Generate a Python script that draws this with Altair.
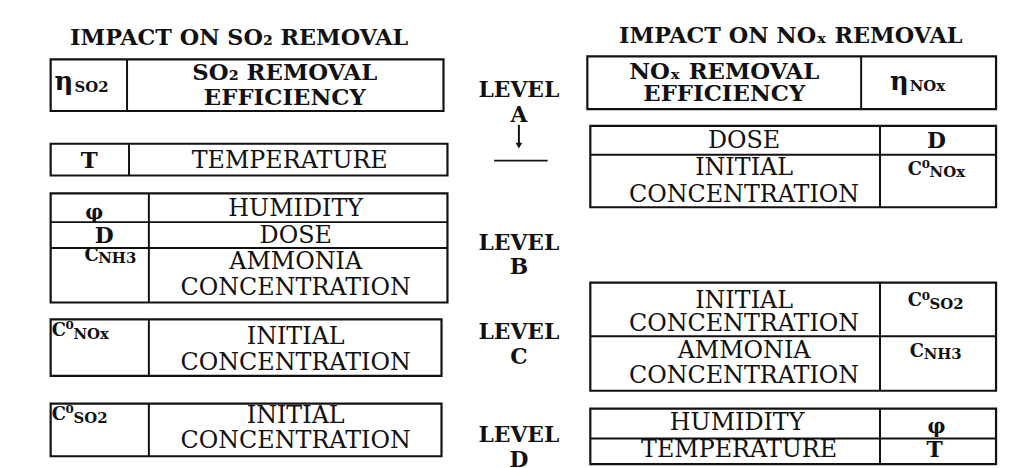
import altair as alt
import pandas as pd

FONT = "DejaVu Serif"

# ---------------- content ----------------
titles = ["IMPACT ON SO₂ REMOVAL", "IMPACT ON NOₓ REMOVAL"]
title_pos = [(241, 36), (797, 34)]

levels = ["LEVEL", "A", "LEVEL", "B", "LEVEL", "C", "LEVEL", "D"]
level_pos = [(523, 89), (523, 114), (523, 243), (523, 267),
             (523, 333), (523, 358), (523, 437), (523, 462)]

bold_labels = ["SO₂ REMOVAL", "EFFICIENCY", "NOₓ REMOVAL", "EFFICIENCY"]
bold_pos = [(287, 72), (287, 97), (730, 71), (730, 93)]

plain_labels = ["TEMPERATURE", "HUMIDITY", "DOSE", "AMMONIA", "CONCENTRATION",
                "INITIAL", "CONCENTRATION", "INITIAL", "CONCENTRATION",
                "DOSE", "INITIAL", "CONCENTRATION", "INITIAL", "CONCENTRATION",
                "AMMONIA", "CONCENTRATION", "HUMIDITY", "TEMPERATURE"]
plain_pos = [(292, 160), (298, 209), (298, 236), (298, 262), (298, 288),
             (298, 338), (298, 364), (298, 417), (298, 443),
             (750, 140), (750, 167), (750, 195), (750, 302), (750, 325),
             (750, 352), (750, 377), (743, 425), (745, 452)]

symbols_big = ["T", "φ", "D", "D", "φ", "T"]
symbols_big_pos = [(90, 160), (95, 213), (105, 236), (944, 140), (944, 429), (942, 452)]
symbols_big_size = [23, 20, 22, 22, 20, 22]

# symbols built from parts: main letter, superscript, subscript
sym_parts = ["η", "SO2",
             "C", "NH3",
             "C", "0", "NOx",
             "C", "0", "SO2",
             "η", "NOx",
             "C", "0", "NOx",
             "C", "0", "SO2",
             "C", "NH3"]
sym_parts_pos = [(55, 81), (75, 86),
                 (85, 256), (99, 258),
                 (52, 332), (66, 326), (74, 335),
                 (52, 416), (66, 410), (74, 419),
                 (897, 81), (917, 85),
                 (915, 169), (929, 163), (937, 172),
                 (915, 302), (929, 296), (937, 305),
                 (917, 353), (931, 355)]
sym_parts_size = [26, 15,
                  18, 15,
                  18, 12, 15,
                  18, 12, 15,
                  26, 15,
                  18, 12, 15,
                  18, 12, 15,
                  18, 15]

# boxes (outer frames)
box_x1 = [51, 51, 51, 51, 51, 592, 595, 595, 595]
box_x2 = [447, 451, 451, 445, 445, 1004, 1004, 1004, 1004]
box_y1 = [58, 143, 193, 320, 405, 55, 125, 283, 410]
box_y2 = [110, 175, 303, 377, 458, 108, 207, 392, 466]

# inner dividers and other rules (incl. level-A marker line and arrow shaft)
rule_x1 = [128, 130, 150, 150, 150, 868, 887, 887, 887, 51, 51, 595, 595, 595, 498, 523]
rule_x2 = [128, 130, 150, 150, 150, 868, 887, 887, 887, 451, 451, 1004, 1004, 1004, 552, 523]
rule_y1 = [58, 143, 193, 320, 405, 55, 125, 283, 410, 222, 248, 154, 337, 440, 160, 124]
rule_y2 = [110, 175, 303, 377, 458, 108, 207, 392, 466, 222, 248, 154, 337, 440, 160, 143]

arrow_head_x = [523]
arrow_head_y = [145]


def text_df(texts, pos, sizes=None, default=25):
    return pd.DataFrame({
        "t": texts,
        "x": [p[0] for p in pos],
        "y": [p[1] for p in pos],
        "s": sizes if sizes is not None else [default] * len(texts),
    })


xs = alt.Scale(domain=[8, 1010], nice=False, zero=False)
ys = alt.Scale(domain=[8, 468], nice=False, zero=False, reverse=True)
X = lambda f: alt.X(f, type="quantitative", scale=xs, axis=None)
Y = lambda f: alt.Y(f, type="quantitative", scale=ys, axis=None)

boxes = pd.DataFrame({"x1": box_x1, "x2": box_x2, "y1": box_y1, "y2": box_y2})
rules = pd.DataFrame({"x1": rule_x1, "x2": rule_x2, "y1": rule_y1, "y2": rule_y2})
heads = pd.DataFrame({"x": arrow_head_x, "y": arrow_head_y})

box_layer = alt.Chart(boxes).mark_rect(fill="white", stroke="#111", strokeWidth=2.2).encode(
    x=X("x1"), x2="x2", y=Y("y1"), y2="y2")
rule_layer = alt.Chart(rules).mark_rule(color="#111", strokeWidth=2).encode(
    x=X("x1"), x2="x2", y=Y("y1"), y2="y2")
head_layer = alt.Chart(heads).mark_point(shape="triangle-down", filled=True, color="#111",
                                         size=45, opacity=1).encode(x=X("x"), y=Y("y"))


def txt(df, bold, align="center"):
    return alt.Chart(df).mark_text(
        font=FONT, fontWeight="bold" if bold else "normal", align=align,
        baseline="middle", color="#111").encode(
        x=X("x"), y=Y("y"), text="t:N", size=alt.Size("s:Q", scale=None, legend=None))


layers = [
    box_layer, rule_layer, head_layer,
    txt(text_df(titles, title_pos, default=22.5), True),
    txt(text_df(levels, level_pos, default=22), True),
    txt(text_df(bold_labels, bold_pos, default=23), True),
    txt(text_df(plain_labels, plain_pos, default=24), False),
    txt(text_df(symbols_big, symbols_big_pos, symbols_big_size), True),
    txt(text_df(sym_parts, sym_parts_pos, sym_parts_size), True, align="left"),
]

chart = alt.layer(*layers).properties(
    width=1002, height=460, autosize=alt.AutoSizeParams(type="none"), padding=0,
    background="white",
).configure_view(strokeWidth=0)

chart.save("out.html", embed_options={"renderer": "svg", "actions": False})
